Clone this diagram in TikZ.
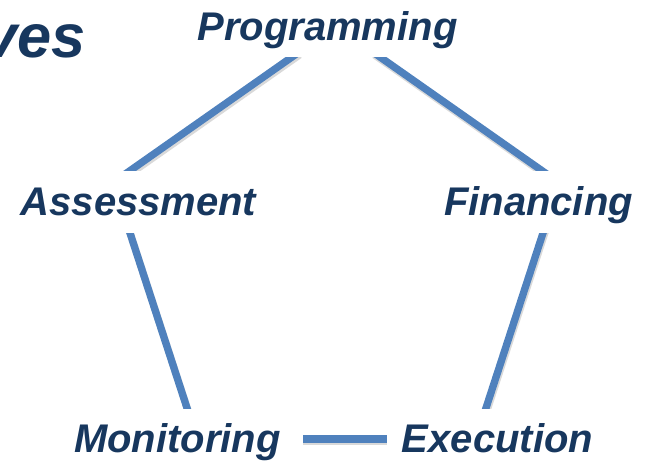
\documentclass[tikz,border=0pt]{standalone}
\usepackage{fontspec}
\setmainfont{Liberation Sans}
\definecolor{navytext}{HTML}{17375E}
\definecolor{steelline}{HTML}{4F81BD}

\begin{document}
\begin{tikzpicture}[x=0.75pt,y=-0.75pt,
  label/.style={text=navytext, font=\fontsize{30}{36}\selectfont\bfseries\itshape,
                inner sep=0pt, anchor=base},
  link/.style={draw=steelline, line width=5.5pt, shorten <=-6pt, shorten >=-6pt},
  linkshadow/.style={draw=black, opacity=0.15, line width=5.5pt,
                     shorten <=-6pt, shorten >=-6pt}]
\useasboundingbox (0,0) rectangle (646,461);

% heading, partly beyond the left edge
\node[label, anchor=base east, font=\fontsize{46}{54}\selectfont\bfseries\itshape]
  (heading) at (86,57) {ves};

% the five stages
\node[label] (prog) at (327.5,40)  {Programming};
\node[label] (asse) at (138.5,215) {Assessment};
\node[label] (fina) at (538.5,215) {Financing};
\node[label] (moni) at (177.5,452) {Monitoring};
\node[label] (exec) at (497.5,452) {Execution};

% connector end points
\coordinate (pa) at (292,57);  \coordinate (ap) at (131,170);
\coordinate (pf) at (380,57);  \coordinate (fp) at (541,170);
\coordinate (am) at (130,233); \coordinate (ma) at (187,408);
\coordinate (fe) at (543,233); \coordinate (ef) at (486,408);
\coordinate (me) at (303,439); \coordinate (em) at (387,439);

% upper connectors, cut level top and bottom
\begin{scope}
  \clip (0,57) rectangle (646,170);
  \draw[linkshadow] ([shift={(1,2.5)}]pa) -- ([shift={(1,2.5)}]ap);
  \draw[linkshadow] ([shift={(1,2.5)}]pf) -- ([shift={(1,2.5)}]fp);
  \draw[link] (pa) -- (ap);
  \draw[link] (pf) -- (fp);
\end{scope}

% side connectors
\begin{scope}
  \clip (0,233) rectangle (646,408);
  \draw[linkshadow] ([shift={(1,2.5)}]am) -- ([shift={(1,2.5)}]ma);
  \draw[linkshadow] ([shift={(1,2.5)}]fe) -- ([shift={(1,2.5)}]ef);
  \draw[link] (am) -- (ma);
  \draw[link] (fe) -- (ef);
\end{scope}

% bottom connector
\draw[draw=black, opacity=0.15, line width=5.5pt] ([shift={(0,2.5)}]me) -- ([shift={(0,2.5)}]em);
\draw[draw=steelline, line width=5.5pt] (me) -- (em);
\end{tikzpicture}
\end{document}
